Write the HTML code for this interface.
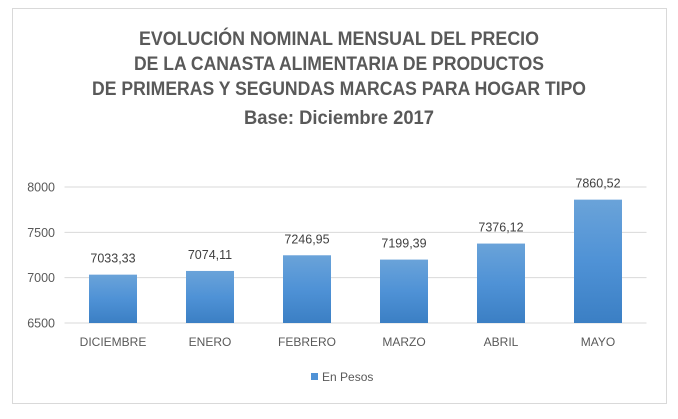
<!DOCTYPE html>
<html><head><meta charset="utf-8"><style>
body{margin:0;background:#fff;}
svg{display:block;font-family:"Liberation Sans",sans-serif;}
</style></head><body>
<svg width="678" height="419" viewBox="0 0 678 419">
<defs><linearGradient id="g" x1="0" y1="0" x2="0" y2="1"><stop offset="0" stop-color="#6aa3d9"/><stop offset="0.5" stop-color="#4f92d6"/><stop offset="1" stop-color="#3b7fc4"/></linearGradient></defs>
<rect x="12.5" y="8.5" width="654" height="395" fill="#fff" stroke="#d9d9d9"/>
<g fill="#595959" font-weight="bold" font-size="19" text-anchor="middle">
<text x="339" y="45" textLength="400" lengthAdjust="spacingAndGlyphs">EVOLUCIÓN NOMINAL MENSUAL DEL PRECIO</text>
<text x="339" y="70" textLength="410" lengthAdjust="spacingAndGlyphs">DE LA CANASTA ALIMENTARIA DE PRODUCTOS</text>
<text x="339" y="95" textLength="494" lengthAdjust="spacingAndGlyphs">DE PRIMERAS Y SEGUNDAS MARCAS PARA HOGAR TIPO</text>
<text x="339" y="124" textLength="190" lengthAdjust="spacingAndGlyphs">Base: Diciembre 2017</text>
</g>
<g id="grid"></g><g id="bars"></g><g id="labels"></g>
<rect x="311" y="373" width="7" height="7" fill="#4f92d6"/>
<text x="322" y="381" font-size="12" fill="#595959">En Pesos</text>
</svg>
<script>
const categories=["DICIEMBRE","ENERO","FEBRERO","MARZO","ABRIL","MAYO"];
const values=[7033.33,7074.11,7246.95,7199.39,7376.12,7860.52];
const valueLabels=["7033,33","7074,11","7246,95","7199,39","7376,12","7860,52"];
const ticks=[6500,7000,7500,8000];
const NS="http://www.w3.org/2000/svg";
const x0=64.5,x1=646.5,yMin=6500,yMax=8000,yTop=187,yBot=323;
const bw=(x1-x0)/categories.length;
function y(v){return yBot-(v-yMin)/(yMax-yMin)*(yBot-yTop);}
function xc(i){return x0+bw*(i+0.5);}
function mk(t,a,p){const e=document.createElementNS(NS,t);for(const k in a)e.setAttribute(k,a[k]);p.appendChild(e);return e;}
const grid=document.getElementById('grid'),bars=document.getElementById('bars'),labels=document.getElementById('labels');
ticks.forEach(t=>{
 const l=mk('line',{x1:x0,x2:x1,y1:y(t),y2:y(t),stroke:'#d9d9d9'},grid);
 
 
 const tx=mk('text',{x:55,y:y(t)+4.5,'text-anchor':'end','font-size':'12.5',fill:'#595959'},grid);
 tx.textContent=t;
 
 
});
categories.forEach((c,i)=>{
 const r=mk('rect',{x:xc(i)-24,y:y(values[i]),width:48,height:yBot-y(values[i]),fill:'url(#g)'},bars);
 
 
 const v=mk('text',{x:xc(i),y:y(values[i])-12,'text-anchor':'middle','font-size':'12.5',fill:'#404040'},labels);
 v.textContent=valueLabels[i];
 
 
 const cl=mk('text',{x:xc(i),y:346,'text-anchor':'middle','font-size':'12',fill:'#595959'},labels);
 cl.textContent=c;
 
 
});
</script>
</body></html>
